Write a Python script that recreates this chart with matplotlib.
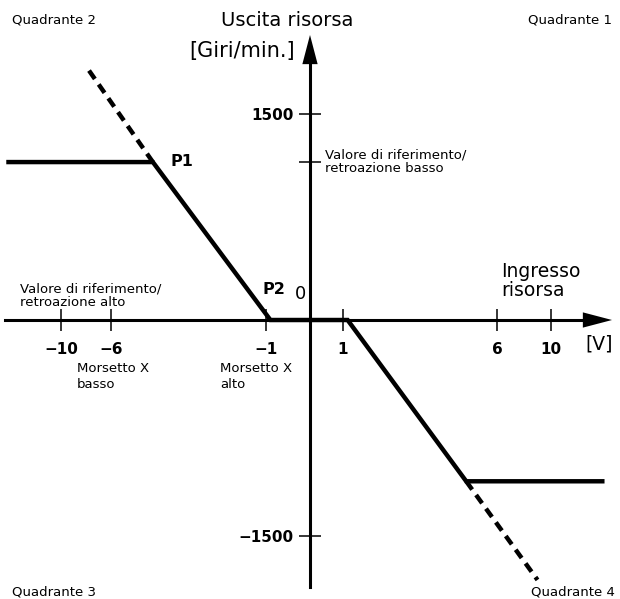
"""Quadrant diagram: resource output [rpm] vs. resource input [V]."""

import numpy as np
import matplotlib
matplotlib.use("Agg")
import matplotlib.pyplot as plt

# Schematic scale of the drawing: value -> distance from origin in px
X_KNOTS_V = [-30, -10, -6, -1, 0, 1, 6, 10, 30]
X_KNOTS_PX = [-499, -249, -199, -44, 0, 33, 187, 241, 511]
Y_KNOTS_RPM = [-4000, -1500, 0, 1500, 4000]
Y_KNOTS_PX = [-576, -216, 0, 206, 549]

# Data
x_ticks = [-10, -6, -1, 1, 6, 10]
x_tick_labels = ["\u221210", "\u22126", "\u22121", "1", "6", "10"]
y_ticks = [-1500, 1150, 1500]
y_tick_labels = ["\u22121500", "", "1500"]

curve_v = [-14.2, -4.65, -0.9, 1.15, 5.0, 13.8]
curve_rpm = [1150, 1150, 0, 0, -1120, -1120]
dash_hi_v = [-4.65, -7.9]
dash_hi_rpm = [1150, 1835]
dash_lo_v = [5.0, 9.0]
dash_lo_rpm = [-1120, -1805]

x_axis_v = [-14.5, 12.4, 14.52]     # start, arrow base, arrow tip
y_axis_rpm = [-1854, 1857, 2076]


def fwd(knots_v, knots_px):
    return lambda v: np.interp(v, knots_v, knots_px)


def inv(knots_v, knots_px):
    return lambda p: np.interp(p, knots_px, knots_v)


W, H = 620, 599
ORIGIN = (310, 320)  # px from top-left

fig = plt.figure(figsize=(W / 100, H / 100), dpi=100)
ax = fig.add_axes([0, 0, 1, 1])

ax.set_xscale("function", functions=(fwd(X_KNOTS_V, X_KNOTS_PX), inv(X_KNOTS_V, X_KNOTS_PX)))
ax.set_yscale("function", functions=(fwd(Y_KNOTS_RPM, Y_KNOTS_PX), inv(Y_KNOTS_RPM, Y_KNOTS_PX)))
xi = inv(X_KNOTS_V, X_KNOTS_PX)
yi = inv(Y_KNOTS_RPM, Y_KNOTS_PX)
ax.set_xlim(float(xi(-ORIGIN[0])), float(xi(W - ORIGIN[0])))
ax.set_ylim(float(yi(-(H - ORIGIN[1]))), float(yi(ORIGIN[1])))

# Axes through the origin
for s in ("top", "right"):
    ax.spines[s].set_visible(False)
ax.spines["left"].set_position(("data", 0))
ax.spines["bottom"].set_position(("data", 0))
ax.spines["bottom"].set_bounds(x_axis_v[0], x_axis_v[1])
ax.spines["left"].set_bounds(y_axis_rpm[0], y_axis_rpm[1])
ax.spines["left"].set_linewidth(2.2)
ax.spines["bottom"].set_linewidth(2.2)

arrow = dict(arrowstyle="-|>,head_length=2.1,head_width=0.55", fc="k", ec="k",
             lw=0, mutation_scale=10, shrinkA=0, shrinkB=0)
ax.annotate("", xy=(x_axis_v[2], 0), xytext=(x_axis_v[1] - 0.3, 0), arrowprops=arrow)
ax.annotate("", xy=(0, y_axis_rpm[2]), xytext=(0, y_axis_rpm[1] - 30), arrowprops=arrow)

ax.set_xticks(x_ticks, x_tick_labels, fontsize=11, fontweight="bold")
ax.set_yticks(y_ticks, y_tick_labels, fontsize=11, fontweight="bold")
ax.minorticks_off()
ax.tick_params(axis="x", direction="inout", length=16, width=1.1, pad=8)
ax.tick_params(axis="y", direction="inout", length=16, width=1.1, pad=4)

# Characteristic
ax.plot(curve_v, curve_rpm, color="k", lw=3.2, solid_joinstyle="miter", zorder=3)
for xs, ys in ((dash_hi_v, dash_hi_rpm), (dash_lo_v, dash_lo_rpm)):
    ax.plot(xs, ys, color="k", lw=3.2, linestyle=(0, (2.3, 1.5)), zorder=3)


def label(px, py, s, **kw):
    ax.text(px / W, 1 - py / H, s, transform=ax.transAxes, **kw)


small = dict(fontsize=9.5, va="center")
label(12, 20, "Quadrante 2", ha="left", **small)
label(612, 20, "Quadrante 1", ha="right", **small)
label(12, 592, "Quadrante 3", ha="left", **small)
label(615, 592, "Quadrante 4", ha="right", **small)

label(287, 20, "Uscita risorsa", ha="center", va="center", fontsize=14)
label(295, 51, "[Giri/min.]", ha="right", va="center", fontsize=15)
label(501, 281, "Ingresso\nrisorsa", ha="left", va="center", fontsize=13.5,
      linespacing=1.05)
label(585, 344, "[V]", ha="left", va="center", fontsize=13.5)

label(325, 162, "Valore di riferimento/\nretroazione basso", ha="left",
      linespacing=1.1, **small)
label(20, 296, "Valore di riferimento/\nretroazione alto", ha="left",
      linespacing=1.1, **small)
label(77, 377, "Morsetto X\nbasso", ha="left", linespacing=1.3, **small)
label(220, 377, "Morsetto X\nalto", ha="left", linespacing=1.3, **small)

label(170, 161, "P1", ha="left", va="center", fontsize=11.5, fontweight="bold")
label(263, 289, "P2", ha="left", va="center", fontsize=11.5, fontweight="bold")
label(300, 294, "0", ha="center", va="center", fontsize=13)

fig.savefig("out.png", dpi=100)
